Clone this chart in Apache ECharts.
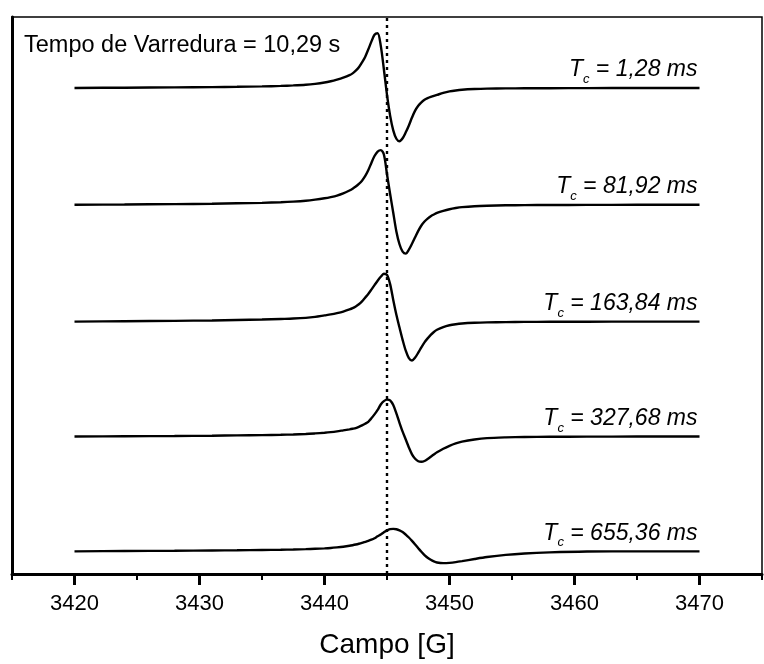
<!DOCTYPE html>
<html>
<head>
<meta charset="utf-8">
<title>Campo [G]</title>
<script src="https://cdn.jsdelivr.net/npm/echarts@6/dist/echarts.min.js"></script>
<style>
  html, body { margin: 0; padding: 0; background: #fff; }
  #chart { width: 764px; height: 664px; }
</style>
</head>
<body>
<div id="chart"></div>
<script>
// Field axis: labelled ticks and the intermediate (minor) ticks (G)
const fieldTicks = [3420, 3430, 3440, 3450, 3460, 3470];
const fieldMinorTicks = [3415, 3425, 3435, 3445, 3455, 3465, 3475];

// Time constants of each sweep (ms) and the sweep time
const timeConstants = ['1,28', '81,92', '163,84', '327,68', '655,36'];
const sweepTimeLabel = 'Tempo de Varredura = 10,29 s';

// Vertical offset of each stacked spectrum (arbitrary units)
const baselines = [493, 374.5, 256, 139.4, 23];

// Resonance marker (G)
const markerField = 3445;

// Field values (G) at which the spectra are sampled
const fieldGrid = [
  3420, 3424, 3428, 3431, 3433, 3435, 3436.5, 3437.5, 3438.5, 3439.25,
  3440, 3440.5, 3441, 3441.5, 3442,
  3442.25, 3442.5, 3442.75, 3443, 3443.25, 3443.5, 3443.75, 3444,
  3444.25, 3444.5, 3444.75, 3445, 3445.25, 3445.5, 3445.75, 3446,
  3446.25, 3446.5, 3446.75, 3447, 3447.25, 3447.5, 3447.75, 3448,
  3448.25, 3448.5, 3448.75, 3449,
  3449.5, 3450, 3450.5, 3451, 3452, 3453, 3454.5, 3456, 3458, 3461, 3465, 3470
];

// First-derivative signal (a.u.) for each time constant
const signal128 = [
  0, 0.3, 0.6, 0.9, 1.2, 1.6, 2.1, 2.6, 3.3, 4.2,
  5.5, 6.8, 8.5, 10.5, 13,
  14.8, 17.5, 21, 26, 31.5, 39, 47, 54,
  55.5, 43, 19, -7, -28, -43, -51.5, -54,
  -51, -45, -38, -30, -23, -18, -14.5, -12,
  -10.3, -9, -8, -7,
  -5, -3.5, -2.5, -1.8, -1.1, -0.7, -0.45, -0.3, -0.2, -0.1, 0, 0
];
const signal8192 = [
  0, 0.3, 0.7, 1.1, 1.5, 2.0, 2.6, 3.2, 4.1, 5.2,
  6.6, 7.8, 9.3, 11.5, 14.5,
  16.3, 18.5, 21.2, 24.5, 29, 35, 42.5, 49.5,
  54, 55.5, 51, 31, 11, -8, -27, -40,
  -47.5, -49.5, -45.5, -39.5, -33, -26.5, -21, -17,
  -14, -11.5, -9.8, -8.3,
  -6.2, -4.5, -3.3, -2.4, -1.4, -0.9, -0.5, -0.3, -0.2, -0.1, 0, 0
];
const signal16384 = [
  0, 0.4, 0.8, 1.2, 1.6, 2.1, 2.7, 3.1, 3.8, 4.8,
  6.3, 7.3, 8.6, 10.2, 12.4,
  13.7, 15.4, 17.6, 20.5, 24.3, 28, 32.5, 37,
  41.5, 45.5, 48.5, 47.5, 38, 22, 7, -6,
  -18.5, -29.5, -37, -39.5, -36.5, -31.5, -26, -21,
  -17, -13.5, -10.5, -8.3,
  -5.5, -3.7, -2.6, -1.9, -1.2, -0.8, -0.5, -0.3, -0.2, -0.1, 0, 0
];
const signal32768 = [
  0, 0.3, 0.6, 0.9, 1.2, 1.5, 1.8, 2.1, 2.6, 3.2,
  3.9, 4.5, 5.3, 6.3, 7.3,
  7.9, 8.6, 9.8, 11.3, 13, 15, 18.5, 22.5,
  27, 32.5, 36, 37.5, 36.8, 32, 23.5, 14,
  5, -3, -11, -18, -22.5, -25, -25.6, -24.8,
  -22.8, -20.5, -18.2, -16,
  -12.4, -9.4, -7, -5.2, -3, -1.6, -0.8, -0.4, -0.2, -0.1, 0, 0
];
const signal65536 = [
  0, 0.3, 0.6, 0.9, 1.1, 1.4, 1.6, 1.85, 2.2, 2.6,
  3.0, 3.4, 4.0, 4.7, 5.6,
  6.2, 6.9, 7.7, 8.6, 9.6, 10.6, 11.8, 13.3,
  15.3, 17, 19.3, 21.3, 22.5, 22.8, 22.4, 21.3,
  19.6, 17, 14, 10.6, 7, 3.2, -0.5, -3.8,
  -6.5, -8.6, -10.2, -11.3,
  -12, -11.7, -11, -10, -7.8, -5.8, -3.6, -2.2, -1.1, -0.2, 0, 0
];

const signals = [signal128, signal8192, signal16384, signal32768, signal65536];

const FONT = '"Liberation Sans", Arial, Helvetica, sans-serif';
const INK = '#000';

const chart = echarts.init(document.getElementById('chart'), null, { renderer: 'canvas' });

const series = signals.map((values, i) => ({
  type: 'line',
  xAxisIndex: 0,
  yAxisIndex: 0,
  data: values.map((v, k) => [fieldGrid[k], baselines[i] + v]),
  showSymbol: false,
  symbol: 'none',
  smooth: 0.3,
  silent: true,
  lineStyle: { color: INK, width: 2.4 },
  endLabel: {
    show: true,
    distance: 0,
    align: 'right',
    verticalAlign: 'bottom',
    offset: [-2, -2],
    formatter: () => '{t|T}{s|c}{v| = ' + timeConstants[i] + ' ms}',
    rich: {
      t: { fontFamily: FONT, fontStyle: 'italic', fontSize: 23, lineHeight: 32, color: INK },
      s: { fontFamily: FONT, fontStyle: 'italic', fontSize: 13, lineHeight: 13, verticalAlign: 'bottom', color: INK },
      v: { fontFamily: FONT, fontStyle: 'italic', fontSize: 23, lineHeight: 32, color: INK }
    }
  },
  markLine: i === 0 ? {
    silent: true,
    symbol: 'none',
    label: { show: false },
    lineStyle: { color: INK, width: 2.4, type: [3, 4] },
    data: [{ xAxis: markerField }]
  } : undefined
}));

// Shared extent of both field axes
const fieldAxisBase = { type: 'value', position: 'bottom', min: 3415, max: 3475, interval: 5 };

chart.setOption({
  animation: false,
  backgroundColor: '#fff',
  textStyle: { fontFamily: FONT, color: INK },
  title: {
    text: sweepTimeLabel,
    left: 24,
    top: 34,
    padding: 0,
    textStyle: { fontFamily: FONT, fontSize: 23.5, fontWeight: 'normal', color: INK }
  },
  grid: {
    left: 12,
    right: 2,
    top: 17,
    bottom: 82,
    show: true,
    borderColor: INK,
    borderWidth: 1.5,
    containLabel: false
  },
  xAxis: [
    Object.assign({}, fieldAxisBase, {
      name: 'Campo [G]',
      nameLocation: 'middle',
      nameGap: 57,
      nameTextStyle: { fontFamily: FONT, fontSize: 28, color: INK },
      axisLine: { show: true, lineStyle: { color: INK, width: 3 } },
      axisTick: { show: true, customValues: fieldTicks, length: 11, lineStyle: { color: INK, width: 3 } },
      axisLabel: {
        show: true,
        customValues: fieldTicks,
        margin: 19,
        fontSize: 22,
        fontFamily: FONT,
        color: INK,
        formatter: (v) => String(v)
      },
      splitLine: { show: false }
    }),
    Object.assign({}, fieldAxisBase, {
      axisLine: { show: false },
      axisTick: { show: true, customValues: fieldMinorTicks, length: 6, lineStyle: { color: INK, width: 2 } },
      axisLabel: { show: false },
      splitLine: { show: false }
    })
  ],
  yAxis: {
    type: 'value',
    min: 0,
    max: 565,
    axisLine: { show: true, lineStyle: { color: INK, width: 3 } },
    axisTick: { show: false },
    axisLabel: { show: false },
    splitLine: { show: false }
  },
  series: series
});
</script>
</body>
</html>
